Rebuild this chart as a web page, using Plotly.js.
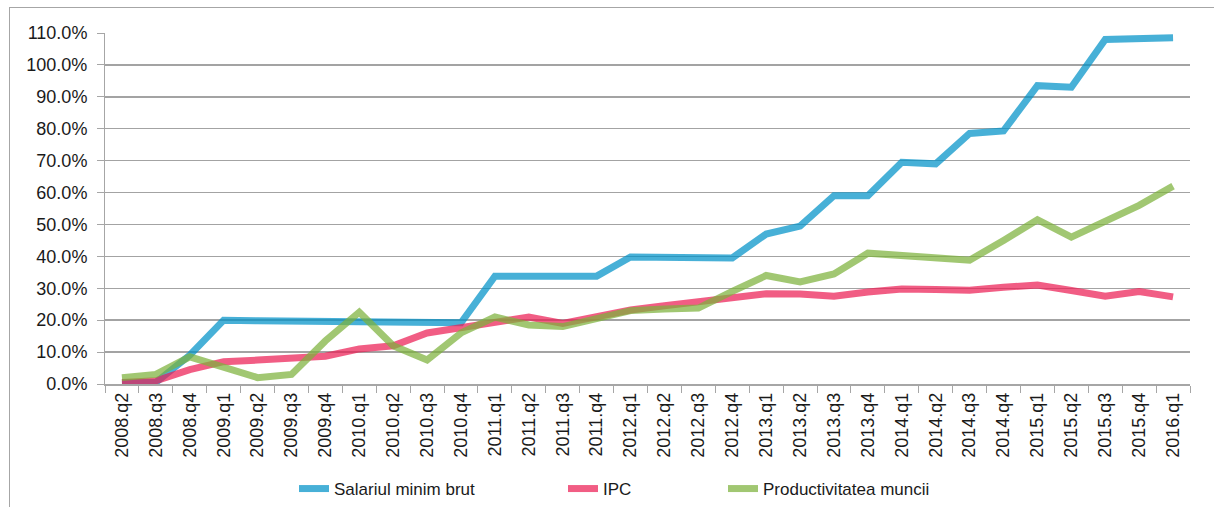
<!DOCTYPE html>
<html>
<head>
<meta charset="utf-8">
<script src="https://cdn.plot.ly/plotly-3.0.1.min.js"></script>
<style>
  html, body { margin: 0; padding: 0; background: #fff; }
  #wrap { position: relative; width: 1214px; height: 507px; overflow: hidden; }
  #chart { position: absolute; left: 0; top: 0; width: 1214px; height: 507px; }
  #frame { position: absolute; left: 9px; top: 7px; width: 1214px; height: 510px;
           border-left: 1px solid #a6a6a6; border-top: 1px solid #a6a6a6; pointer-events: none; }
</style>
</head>
<body>
<div id="wrap">
  <div id="chart"></div>
  <div id="frame"></div>
</div>
<script>
const categories = [
  "2008.q2","2008.q3","2008.q4",
  "2009.q1","2009.q2","2009.q3","2009.q4",
  "2010.q1","2010.q2","2010.q3","2010.q4",
  "2011.q1","2011.q2","2011.q3","2011.q4",
  "2012.q1","2012.q2","2012.q3","2012.q4",
  "2013.q1","2013.q2","2013.q3","2013.q4",
  "2014.q1","2014.q2","2014.q3","2014.q4",
  "2015.q1","2015.q2","2015.q3","2015.q4",
  "2016.q1"
];

const salariulMinimBrut = [
  0.5, 0.5, 9.0,
  20.0, 19.8, 19.7, 19.6,
  19.5, 19.4, 19.3, 19.2,
  33.8, 33.8, 33.8, 33.8,
  39.8, 39.7, 39.6, 39.5,
  47.0, 49.5, 59.0, 59.0,
  69.5, 69.0, 78.5, 79.3,
  93.5, 93.0, 108.0, 108.3,
  108.5
];

const ipc = [
  0.5, 1.0, 4.5,
  7.0, 7.5, 8.0, 8.7,
  11.0, 12.0, 16.0, 17.5,
  19.0, 21.0, 19.0, 21.0,
  23.2, 24.5, 25.8, 27.0,
  28.3, 28.2, 27.5, 28.8,
  29.8, 29.6, 29.4, 30.3,
  31.0, 29.3, 27.5, 29.0,
  27.3
];

const productivitateaMuncii = [
  2.0, 3.0, 8.5,
  5.5, 2.0, 3.0, 13.5,
  22.5, 12.0, 7.5, 16.0,
  21.0, 18.5, 18.0, 20.5,
  23.0, 23.5, 23.8, 29.0,
  34.0, 32.0, 34.5, 41.0,
  40.3, 39.5, 38.8, 45.0,
  51.5, 46.0, 51.0, 56.0,
  62.0
];

const seriesNames = ["Salariul minim brut", "IPC", "Productivitatea muncii"];
const yTickVals = [0,10,20,30,40,50,60,70,80,90,100,110];
const yTickText = yTickVals.map(v => v.toFixed(1) + "%");

const traces = [
  { x: categories, y: salariulMinimBrut, name: seriesNames[0], type: "scatter", mode: "lines",
    legend: "legend", line: { color: "rgba(0,145,200,0.72)", width: 7 } },
  { x: categories, y: ipc, name: seriesNames[1], type: "scatter", mode: "lines",
    legend: "legend2", line: { color: "rgba(235,30,85,0.72)", width: 7 } },
  { x: categories, y: productivitateaMuncii, name: seriesNames[2], type: "scatter", mode: "lines",
    legend: "legend3", line: { color: "rgba(125,178,60,0.72)", width: 7 } }
];

function legendAt(px) {
  return {
    orientation: "h", xref: "container", yref: "container",
    x: px / 1214, xanchor: "left", y: 1 - 489 / 507, yanchor: "middle",
    font: { size: 17, color: "#1a1a1a" }, bgcolor: "rgba(0,0,0,0)", borderwidth: 0
  };
}

const layout = {
  width: 1214, height: 507,
  margin: { l: 105, r: 24, t: 33, b: 123, autoexpand: false },
  paper_bgcolor: "#ffffff", plot_bgcolor: "#ffffff",
  font: { family: "Liberation Sans, Arial, sans-serif", color: "#1a1a1a" },
  showlegend: true,
  legend: legendAt(294),
  legend2: legendAt(563),
  legend3: legendAt(723),
  xaxis: {
    type: "category", range: [-0.5, categories.length - 0.5],
    tickangle: -90, tickson: "boundaries",
    ticks: "outside", ticklen: 7, tickcolor: "#a6a6a6", tickwidth: 1,
    showline: true, linecolor: "#a6a6a6", linewidth: 1.5,
    showgrid: false, zeroline: false, automargin: false,
    tickfont: { size: 18, color: "#1a1a1a" },
    fixedrange: true
  },
  yaxis: {
    range: [0, 110], tickmode: "array", tickvals: yTickVals, ticktext: yTickText,
    ticks: "outside", ticklen: 7, tickcolor: "#a6a6a6", tickwidth: 1,
    ticklabelstandoff: 6,
    showline: true, linecolor: "#a6a6a6", linewidth: 1,
    showgrid: true, gridcolor: "#a3a3a3", gridwidth: 1.5,
    zeroline: false, automargin: false,
    tickfont: { size: 18, color: "#1a1a1a" },
    fixedrange: true
  }
};

Plotly.newPlot("chart", traces, layout, { displayModeBar: false, staticPlot: true });
</script>
</body>
</html>
